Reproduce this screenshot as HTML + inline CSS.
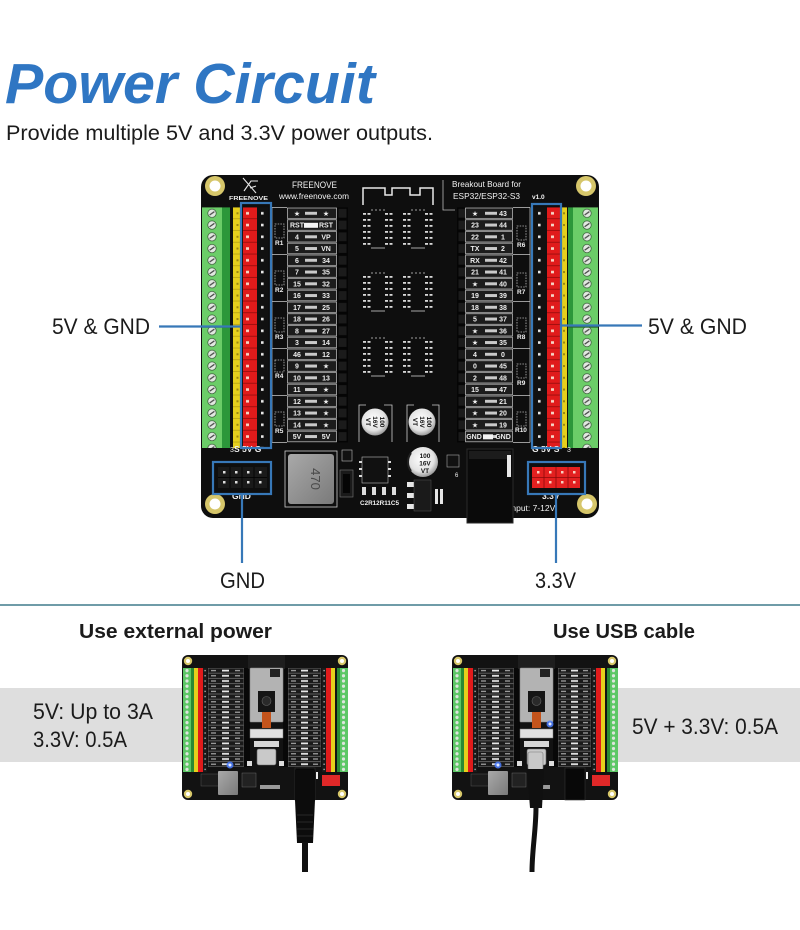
<!DOCTYPE html>
<html><head><meta charset="utf-8">
<style>
html,body{margin:0;padding:0;background:#fff;width:800px;height:930px;overflow:hidden}
svg{display:block}
.t{font-family:"Liberation Sans","DejaVu Sans",sans-serif;font-weight:bold;font-size:7px;fill:#eeeeee;text-anchor:middle}
.w{font-family:"Liberation Sans",sans-serif;fill:#f2f2f2}
.lab{font-family:"Liberation Sans",sans-serif;font-size:22px;fill:#1b1b1b}
.cap{font-family:"Liberation Sans",sans-serif;font-weight:bold;font-size:6.5px;fill:#111;text-anchor:middle}
</style></head><body>
<svg width="800" height="930" viewBox="0 0 800 930" xmlns="http://www.w3.org/2000/svg" xmlns:xlink="http://www.w3.org/1999/xlink">
<defs>
  <radialGradient id="silver" cx="45%" cy="40%" r="60%">
    <stop offset="0" stop-color="#ffffff"/><stop offset="0.7" stop-color="#e2e2e2"/><stop offset="1" stop-color="#9a9a9a"/>
  </radialGradient>
  <linearGradient id="ind" x1="0" y1="0" x2="1" y2="1">
    <stop offset="0" stop-color="#a9a9a9"/><stop offset="1" stop-color="#7a7a7a"/>
  </linearGradient>
  <pattern id="strip" x="0" y="207.4" width="800" height="11.75" patternUnits="userSpaceOnUse">
    <!-- left green -->
    <rect x="202" width="20" height="11.75" fill="#6bcd68"/>
    <rect x="222" width="8" height="11.75" fill="#2c973a"/>
    <circle cx="212" cy="5.9" r="4.2" fill="#e2e9e1" stroke="#355535" stroke-width="0.7"/>
    <path d="M209.6 7.6 L214.4 4.2" stroke="#4a4a4a" stroke-width="1.3"/>
    <!-- left yellow -->
    <rect x="233" width="9" height="11.75" fill="#e6cf1c"/>
    <rect x="236.5" y="4.9" width="2" height="2" fill="#9c870f"/>
    <rect x="233" y="11" width="9" height="0.75" fill="#b39d10"/>
    <!-- left red -->
    <rect x="243" width="14" height="11.75" fill="#e01b1b"/>
    <rect x="246" y="4.6" width="3" height="2.6" fill="#f5d5c5"/>
    <rect x="243" y="11" width="14" height="0.75" fill="#8d0a0a"/>
    <!-- left black -->
    <rect x="257" width="11" height="11.75" fill="#111"/>
    <rect x="261" y="4.6" width="2.6" height="2.6" fill="#e8e8e8"/>
    <!-- left table -->
    <rect x="287.5" y="0.6" width="49" height="10.5" fill="#1c1c1c" stroke="#c8c8c8" stroke-width="0.7"/>
    <rect x="305" y="4.4" width="12" height="3" fill="#c9c9c9"/>
    <!-- left header -->
    <rect x="337" width="11" height="11.75" fill="#050505"/>
    <rect x="338.5" y="1.5" width="8" height="8.75" fill="#1b1b1b"/>
    <!-- right header -->
    <rect x="457" width="11" height="11.75" fill="#050505"/>
    <rect x="458.5" y="1.5" width="8" height="8.75" fill="#1b1b1b"/>
    <!-- right table -->
    <rect x="465.5" y="0.6" width="47" height="10.5" fill="#1c1c1c" stroke="#c8c8c8" stroke-width="0.7"/>
    <rect x="485" y="4.4" width="12" height="3" fill="#c9c9c9"/>
    <!-- right black -->
    <rect x="533" width="14" height="11.75" fill="#111"/>
    <rect x="538" y="4.6" width="2.6" height="2.6" fill="#e8e8e8"/>
    <!-- right red -->
    <rect x="547" width="13" height="11.75" fill="#e01b1b"/>
    <rect x="551" y="4.6" width="3" height="2.6" fill="#f5d5c5"/>
    <rect x="547" y="11" width="13" height="0.75" fill="#8d0a0a"/>
    <!-- right yellow -->
    <rect x="561" width="6" height="11.75" fill="#e6cf1c"/>
    <rect x="563" y="4.9" width="2" height="2" fill="#9c870f"/>
    <!-- right green -->
    <rect x="568" width="5" height="11.75" fill="#2c973a"/>
    <rect x="573" width="25" height="11.75" fill="#6bcd68"/>
    <circle cx="587" cy="5.9" r="4.2" fill="#e2e9e1" stroke="#355535" stroke-width="0.7"/>
    <path d="M584.6 7.6 L589.4 4.2" stroke="#4a4a4a" stroke-width="1.3"/>
  </pattern>

  <pattern id="sstrip" x="0" y="13" width="166" height="5.2" patternUnits="userSpaceOnUse">
    <rect x="1" width="8" height="5.2" fill="#5cc765"/>
    <rect x="9" width="3" height="5.2" fill="#2a8a34"/>
    <circle cx="5" cy="2.6" r="1.6" fill="#dfe5df"/>
    <rect x="12" width="4" height="5.2" fill="#e6cf1c"/>
    <rect x="16" width="5" height="5.2" fill="#e01b1b"/>
    <rect x="21" width="4" height="5.2" fill="#1a1a1a"/>
    <rect x="22.5" y="2" width="1.2" height="1.2" fill="#ddd"/>
    <rect x="26.3" y="0.3" width="35.4" height="4.6" fill="#1a1a1a" stroke="#8a8a8a" stroke-width="0.3"/>
    <rect x="29" y="2" width="5" height="1.2" fill="#aaa"/>
    <rect x="40" y="1.7" width="7" height="1.8" fill="#e8e8e8"/>
    <rect x="53" y="2" width="5" height="1.2" fill="#aaa"/>
    <rect x="62" width="6" height="5.2" fill="#080808"/>
    <rect x="101" width="5" height="5.2" fill="#080808"/>
    <rect x="106.3" y="0.3" width="32.4" height="4.6" fill="#1a1a1a" stroke="#8a8a8a" stroke-width="0.3"/>
    <rect x="109" y="2" width="5" height="1.2" fill="#aaa"/>
    <rect x="119" y="1.7" width="7" height="1.8" fill="#e8e8e8"/>
    <rect x="131" y="2" width="5" height="1.2" fill="#aaa"/>
    <rect x="140" width="4" height="5.2" fill="#1a1a1a"/>
    <rect x="141.5" y="2" width="1.2" height="1.2" fill="#ddd"/>
    <rect x="144" width="5" height="5.2" fill="#e01b1b"/>
    <rect x="149" width="4" height="5.2" fill="#e6cf1c"/>
    <rect x="155" width="3" height="5.2" fill="#2a8a34"/>
    <rect x="158" width="8" height="5.2" fill="#5cc765"/>
    <circle cx="161.5" cy="2.6" r="1.6" fill="#dfe5df"/>
  </pattern>

  <g id="ic">
    <path d="M8 0 H22" stroke="#cfcfcf" stroke-width="0.8" stroke-dasharray="2 2"/>
    <g fill="#d8d8d8">
      <rect x="0" y="3" width="3" height="1.8"/><rect x="4.5" y="3" width="3" height="1.8"/><rect x="22" y="3" width="3" height="1.8"/><rect x="26.5" y="3" width="3" height="1.8"/>
      <rect x="0" y="9" width="3" height="1.8"/><rect x="4.5" y="9" width="3" height="1.8"/><rect x="22" y="9" width="3" height="1.8"/><rect x="26.5" y="9" width="3" height="1.8"/>
      <rect x="0" y="15" width="3" height="1.8"/><rect x="4.5" y="15" width="3" height="1.8"/><rect x="22" y="15" width="3" height="1.8"/><rect x="26.5" y="15" width="3" height="1.8"/>
      <rect x="0" y="21" width="3" height="1.8"/><rect x="4.5" y="21" width="3" height="1.8"/><rect x="22" y="21" width="3" height="1.8"/><rect x="26.5" y="21" width="3" height="1.8"/>
      <rect x="0" y="27" width="3" height="1.8"/><rect x="4.5" y="27" width="3" height="1.8"/><rect x="22" y="27" width="3" height="1.8"/><rect x="26.5" y="27" width="3" height="1.8"/>
      <rect x="0" y="33" width="3" height="1.8"/><rect x="4.5" y="33" width="3" height="1.8"/><rect x="22" y="33" width="3" height="1.8"/><rect x="26.5" y="33" width="3" height="1.8"/>
    </g>
    <path d="M8 38 H22" stroke="#cfcfcf" stroke-width="0.8"/>
  </g>

  <g id="sb">
    <rect x="0" y="0" width="166" height="145" rx="6" fill="#121212"/>
    <rect x="1" y="13" width="24" height="104" fill="url(#sstrip)"/>
    <rect x="26" y="13" width="42" height="99" fill="url(#sstrip)"/>
    <rect x="101" y="13" width="38" height="99" fill="url(#sstrip)"/>
    <rect x="140" y="13" width="26" height="104" fill="url(#sstrip)"/>
    <circle cx="6" cy="6" r="4.2" fill="#d8c86a"/><circle cx="6" cy="6" r="2" fill="#fff"/>
    <circle cx="160" cy="6" r="4.2" fill="#d8c86a"/><circle cx="160" cy="6" r="2" fill="#fff"/>
    <circle cx="6" cy="139" r="4.2" fill="#d8c86a"/><circle cx="6" cy="139" r="2" fill="#fff"/>
    <circle cx="160" cy="139" r="4.2" fill="#d8c86a"/><circle cx="160" cy="139" r="2" fill="#fff"/>
    <rect x="66" y="0" width="37" height="14" fill="#1e1e1e"/>
    <rect x="68" y="13" width="33" height="54" rx="1" fill="#b3b3b3" stroke="#888" stroke-width="0.6"/>
    <rect x="88" y="14" width="10" height="8" fill="#222"/>
    <rect x="76" y="36" width="17" height="21" fill="#151515"/>
    <circle cx="84.5" cy="46" r="4.5" fill="#2a2a2a" stroke="#666" stroke-width="0.6"/>
    <rect x="80" y="57" width="9" height="16" fill="#c4541c"/>
    <rect x="68" y="74" width="33" height="9" fill="#e0e0e0" stroke="#777" stroke-width="0.5"/>
    <rect x="72" y="86" width="25" height="6" fill="#d6d6d6"/>
    <rect x="75" y="94" width="19" height="16" rx="2" fill="#c9c9c9" stroke="#666" stroke-width="0.6"/>
    <rect x="65" y="106" width="5" height="5" fill="#ddd"/>
    <rect x="97" y="106" width="5" height="5" fill="#ddd"/>
    <rect x="19" y="119" width="21" height="12" fill="#1b1b1b" stroke="#555" stroke-width="0.5"/>
    <rect x="36" y="116" width="20" height="24" rx="1" fill="url(#ind)"/>
    <rect x="60" y="118" width="14" height="14" fill="#222" stroke="#777" stroke-width="0.4"/>
    <rect x="78" y="130" width="20" height="4" fill="#999"/>
    <rect x="113" y="113" width="20" height="32" fill="#080808" stroke="#333" stroke-width="0.6"/>
    <rect x="134" y="117" width="2" height="7" fill="#eee"/>
    <rect x="140" y="120" width="18" height="11" fill="#e02828"/>
  </g>
</defs>

<!-- Title -->
<text x="5" y="103" font-family="'Liberation Sans',sans-serif" font-size="57" font-weight="bold" font-style="italic" fill="#2f76c3" textLength="370" lengthAdjust="spacingAndGlyphs">Power Circuit</text>
<text x="6" y="140" font-family="'Liberation Sans',sans-serif" font-size="21" fill="#1b1b1b" textLength="427" lengthAdjust="spacingAndGlyphs">Provide multiple 5V and 3.3V power outputs.</text>

<!-- ===== Main board ===== -->
<rect x="201" y="175" width="398" height="343" rx="12" fill="#0e0e0e"/>
<g>
  <circle cx="215" cy="186" r="10" fill="#d6c66a"/><circle cx="215" cy="186" r="5.5" fill="#fff"/>
  <circle cx="586" cy="186" r="10" fill="#d6c66a"/><circle cx="586" cy="186" r="5.5" fill="#fff"/>
  <circle cx="215" cy="504" r="10" fill="#d6c66a"/><circle cx="215" cy="504" r="5.5" fill="#fff"/>
  <circle cx="587" cy="504" r="10" fill="#d6c66a"/><circle cx="587" cy="504" r="5.5" fill="#fff"/>
</g>

<rect x="202" y="207.4" width="66" height="240.6" fill="url(#strip)"/>
<rect x="287" y="207.4" width="61" height="235" fill="url(#strip)"/>
<rect x="457" y="207.4" width="56" height="235" fill="url(#strip)"/>
<rect x="533" y="207.4" width="65" height="240.6" fill="url(#strip)"/>
<rect x="202" y="326.5" width="28" height="1.2" fill="#2a6a2a"/>
<rect x="568" y="326.5" width="30" height="1.2" fill="#2a6a2a"/>
<!-- RST highlight -->
<rect x="304" y="222.8" width="14" height="5" fill="#f4f4f4"/>
<rect x="483" y="434.3" width="10" height="5" fill="#f4f4f4"/>

<!-- R columns -->
<g stroke="#c8c8c8" stroke-width="0.7" fill="none">
  <path d="M272 207.4 V442.4 M272 207.4 H287 M272 254.4 H287 M272 301.4 H287 M272 348.4 H287 M272 395.4 H287 M272 442.4 H287"/>
  <path d="M530 207.4 V442.4 M513 207.4 H530 M513 254.4 H530 M513 301.4 H530 M513 348.4 H530 M513 395.4 H530 M513 442.4 H530"/>
</g>
<g stroke="#bdbdbd" stroke-width="0.8" fill="none" stroke-dasharray="1.5 1.2">
  <rect x="275" y="224" width="9" height="14"/><rect x="275" y="271" width="9" height="14"/><rect x="275" y="318" width="9" height="14"/><rect x="275" y="360" width="9" height="12"/><rect x="275" y="412" width="9" height="14"/>
  <rect x="517" y="226" width="9" height="14"/><rect x="517" y="273" width="9" height="14"/><rect x="517" y="318" width="9" height="14"/><rect x="517" y="364" width="9" height="14"/><rect x="517" y="412" width="9" height="14"/>
</g>
<g class="w" font-size="6.5" font-weight="bold">
  <text x="275" y="245">R1</text><text x="275" y="292">R2</text><text x="275" y="339">R3</text><text x="275" y="378">R4</text><text x="275" y="433">R5</text>
  <text x="517" y="247">R6</text><text x="517" y="294">R7</text><text x="517" y="339">R8</text><text x="517" y="385">R9</text><text x="515" y="432">R10</text>
</g>

<!-- left table labels -->
<g class="t">
  <text x="297" y="215.8">★</text><text x="326" y="215.8">★</text>
  <text x="297" y="227.6">RST</text><text x="326" y="227.6">RST</text>
  <text x="297" y="239.3">4</text><text x="326" y="239.3">VP</text>
  <text x="297" y="251.1">5</text><text x="326" y="251.1">VN</text>
  <text x="297" y="262.8">6</text><text x="326" y="262.8">34</text>
  <text x="297" y="274.6">7</text><text x="326" y="274.6">35</text>
  <text x="297" y="286.3">15</text><text x="326" y="286.3">32</text>
  <text x="297" y="298.1">16</text><text x="326" y="298.1">33</text>
  <text x="297" y="309.8">17</text><text x="326" y="309.8">25</text>
  <text x="297" y="321.6">18</text><text x="326" y="321.6">26</text>
  <text x="297" y="333.3">8</text><text x="326" y="333.3">27</text>
  <text x="297" y="345.1">3</text><text x="326" y="345.1">14</text>
  <text x="297" y="356.8">46</text><text x="326" y="356.8">12</text>
  <text x="297" y="368.6">9</text><text x="326" y="368.6">★</text>
  <text x="297" y="380.3">10</text><text x="326" y="380.3">13</text>
  <text x="297" y="392.1">11</text><text x="326" y="392.1">★</text>
  <text x="297" y="403.8">12</text><text x="326" y="403.8">★</text>
  <text x="297" y="415.6">13</text><text x="326" y="415.6">★</text>
  <text x="297" y="427.3">14</text><text x="326" y="427.3">★</text>
  <text x="297" y="439.1">5V</text><text x="326" y="439.1">5V</text>
</g>
<!-- right table labels -->
<g class="t">
  <text x="475" y="215.8">★</text><text x="503" y="215.8">43</text>
  <text x="475" y="227.6">23</text><text x="503" y="227.6">44</text>
  <text x="475" y="239.3">22</text><text x="503" y="239.3">1</text>
  <text x="475" y="251.1">TX</text><text x="503" y="251.1">2</text>
  <text x="475" y="262.8">RX</text><text x="503" y="262.8">42</text>
  <text x="475" y="274.6">21</text><text x="503" y="274.6">41</text>
  <text x="475" y="286.3">★</text><text x="503" y="286.3">40</text>
  <text x="475" y="298.1">19</text><text x="503" y="298.1">39</text>
  <text x="475" y="309.8">18</text><text x="503" y="309.8">38</text>
  <text x="475" y="321.6">5</text><text x="503" y="321.6">37</text>
  <text x="475" y="333.3">★</text><text x="503" y="333.3">36</text>
  <text x="475" y="345.1">★</text><text x="503" y="345.1">35</text>
  <text x="475" y="356.8">4</text><text x="503" y="356.8">0</text>
  <text x="475" y="368.6">0</text><text x="503" y="368.6">45</text>
  <text x="475" y="380.3">2</text><text x="503" y="380.3">48</text>
  <text x="475" y="392.1">15</text><text x="503" y="392.1">47</text>
  <text x="475" y="403.8">★</text><text x="503" y="403.8">21</text>
  <text x="475" y="415.6">★</text><text x="503" y="415.6">20</text>
  <text x="475" y="427.3">★</text><text x="503" y="427.3">19</text>
  <text x="474" y="439.1">GND</text><text x="503" y="439.1">GND</text>
</g>

<!-- antenna silkscreen -->
<path d="M363 205 V188 H385 V195 H392 V188 H410 V195 H420 V188 H433 V205" fill="none" stroke="#e8e8e8" stroke-width="1.5"/>
<path d="M443 180 V210 H455" fill="none" stroke="#bbb" stroke-width="0.8"/>
<!-- ICs -->
<use xlink:href="#ic" x="363" y="210"/>
<use xlink:href="#ic" x="403" y="210"/>
<use xlink:href="#ic" x="363" y="273"/>
<use xlink:href="#ic" x="403" y="273"/>
<use xlink:href="#ic" x="363" y="338"/>
<use xlink:href="#ic" x="403" y="338"/>

<!-- capacitors -->
<g fill="none" stroke="#cfcfcf" stroke-width="0.8">
  <path d="M359 442 V405 H366 M384 405 H392 V442"/>
  <path d="M407 442 V405 H414 M432 405 H439 V442"/>
</g>
<circle cx="375" cy="422" r="13.5" fill="url(#silver)"/>
<circle cx="422" cy="422" r="13.5" fill="url(#silver)"/>
<g class="cap">
  <text transform="translate(375,422) rotate(90)"><tspan x="0" y="-5">100</tspan><tspan x="0" y="2">16V</tspan><tspan x="0" y="9">VT</tspan></text>
  <text transform="translate(422,422) rotate(90)"><tspan x="0" y="-5">100</tspan><tspan x="0" y="2">16V</tspan><tspan x="0" y="9">VT</tspan></text>
</g>

<!-- lower components -->
<rect x="285" y="451" width="52" height="56" fill="none" stroke="#cfcfcf" stroke-width="0.8"/>
<rect x="288" y="454" width="46" height="50" rx="3" fill="url(#ind)"/>
<text transform="translate(311,479) rotate(90)" font-family="'Liberation Sans',sans-serif" font-size="13" fill="#4a4a4a" text-anchor="middle">470</text>
<rect x="342" y="450" width="10" height="11" fill="#111" stroke="#bbb" stroke-width="0.6"/>
<rect x="340" y="470" width="13" height="27" fill="#1a1a1a" stroke="#777" stroke-width="0.6"/>
<rect x="343" y="474" width="7" height="19" fill="#050505"/>
<rect x="362" y="457" width="26" height="26" fill="#111" stroke="#bbb" stroke-width="0.6"/>
<g fill="#dcdcdc">
  <rect x="359" y="461" width="3" height="2"/><rect x="359" y="468" width="3" height="2"/><rect x="359" y="475" width="3" height="2"/>
  <rect x="388" y="461" width="3" height="2"/><rect x="388" y="468" width="3" height="2"/><rect x="388" y="475" width="3" height="2"/>
  <rect x="362" y="487" width="4" height="8"/><rect x="372" y="487" width="4" height="8"/><rect x="382" y="487" width="4" height="8"/><rect x="392" y="487" width="4" height="8"/>
</g>
<text x="360" y="505" class="w" font-size="6.5" font-weight="bold" textLength="39" lengthAdjust="spacingAndGlyphs">C2R12R11C5</text>
<circle cx="423" cy="462" r="15" fill="url(#silver)"/>
<path d="M411 453 A15 15 0 0 0 411 471" fill="none" stroke="#222" stroke-width="2"/>
<g class="cap" font-size="7.5">
  <text x="425" y="458">100</text><text x="425" y="465.5">16V</text><text x="425" y="473">VT</text>
</g>
<g fill="#e6e6e6">
  <rect x="407" y="482" width="7" height="5"/><rect x="407" y="493" width="7" height="5"/><rect x="407" y="504" width="7" height="5"/>
  <rect x="435" y="489" width="3" height="15"/><rect x="440" y="489" width="3" height="15"/>
</g>
<rect x="414" y="480" width="17" height="31" fill="#1a1a1a" stroke="#555" stroke-width="0.5"/>
<rect x="447" y="455" width="12" height="12" fill="#111" stroke="#aaa" stroke-width="0.6"/>
<text x="455" y="477" class="w" font-size="6">6</text>

<!-- bottom labels on board -->
<g class="w" font-size="8.5" font-weight="bold">
  <text x="234" y="452">S 5V G</text>
  <text x="532" y="452">G 5V S</text>
  <text x="232" y="499">GND</text>
  <text x="542" y="499">3.3V</text>
</g>
<text x="509" y="511" class="w" font-size="8.5">Input: 7-12V</text>
<text x="230" y="452" class="w" font-size="7">3</text>
<text x="567" y="452" class="w" font-size="7">3</text>

<!-- DC jack -->
<rect x="467" y="449" width="46" height="74" fill="#0a0a0a" stroke="#2a2a2a" stroke-width="1"/>
<rect x="469" y="451" width="42" height="8" fill="#1c1c1c"/>
<rect x="507" y="455" width="4" height="22" fill="#e8e8e8"/>

<!-- GND header -->
<rect x="218" y="467" width="49" height="21" fill="#1a1a1a"/>
<g fill="#ddd">
  <rect x="223" y="471" width="2.5" height="2.5"/><rect x="235" y="471" width="2.5" height="2.5"/><rect x="247" y="471" width="2.5" height="2.5"/><rect x="259" y="471" width="2.5" height="2.5"/>
  <rect x="223" y="481" width="2.5" height="2.5"/><rect x="235" y="481" width="2.5" height="2.5"/><rect x="247" y="481" width="2.5" height="2.5"/><rect x="259" y="481" width="2.5" height="2.5"/>
</g>
<g stroke="#000" stroke-width="0.8"><path d="M230 467 V488 M242 467 V488 M254 467 V488 M218 477.5 H267"/></g>
<!-- 3.3V header -->
<rect x="532" y="467" width="48" height="21" fill="#e32020"/>
<g fill="#f6d0c0">
  <rect x="537" y="471" width="2.5" height="2.5"/><rect x="549" y="471" width="2.5" height="2.5"/><rect x="561" y="471" width="2.5" height="2.5"/><rect x="573" y="471" width="2.5" height="2.5"/>
  <rect x="537" y="481" width="2.5" height="2.5"/><rect x="549" y="481" width="2.5" height="2.5"/><rect x="561" y="481" width="2.5" height="2.5"/><rect x="573" y="481" width="2.5" height="2.5"/>
</g>
<g stroke="#8a0a0a" stroke-width="0.8"><path d="M544 467 V488 M556 467 V488 M568 467 V488 M532 477.5 H580"/></g>

<!-- top texts -->
<path d="M243 178 L256 193 M244 191 L251 181 L258 181 M250 188 L256 186" fill="none" stroke="#e8e8e8" stroke-width="1.1"/>
<text x="229" y="200" class="w" font-size="5.5" font-weight="bold" textLength="39" lengthAdjust="spacingAndGlyphs">FREENOVE</text>
<text x="292" y="188" class="w" font-size="9" textLength="45" lengthAdjust="spacingAndGlyphs">FREENOVE</text>
<text x="279" y="199" class="w" font-size="8.5" textLength="70" lengthAdjust="spacingAndGlyphs">www.freenove.com</text>
<text x="452" y="187" class="w" font-size="8.5" textLength="69" lengthAdjust="spacingAndGlyphs">Breakout Board for</text>
<text x="453" y="199" class="w" font-size="8.5" textLength="67" lengthAdjust="spacingAndGlyphs">ESP32/ESP32-S3</text>
<text x="532" y="199" class="w" font-size="6.5" font-weight="bold">v1.0</text>

<!-- blue callouts -->
<g fill="none" stroke="#3778b8" stroke-width="2.2">
  <rect x="241" y="203" width="30" height="245"/>
  <rect x="532" y="204" width="29" height="244"/>
  <rect x="213" y="462" width="58" height="32"/>
  <rect x="528" y="462" width="57" height="32"/>
  <path d="M159 326.5 H241"/>
  <path d="M561 325.5 H642"/>
  <path d="M242 494 V563"/>
  <path d="M556 494 V563"/>
</g>

<text x="52" y="334" class="lab" textLength="98" lengthAdjust="spacingAndGlyphs">5V &amp; GND</text>
<text x="648" y="334" class="lab" textLength="99" lengthAdjust="spacingAndGlyphs">5V &amp; GND</text>
<text x="220" y="588" class="lab" textLength="45" lengthAdjust="spacingAndGlyphs">GND</text>
<text x="535" y="588" class="lab" textLength="41" lengthAdjust="spacingAndGlyphs">3.3V</text>

<!-- divider -->
<rect x="0" y="604" width="800" height="2" fill="#6f9ca8"/>

<!-- bottom section -->
<text x="79" y="638" font-family="'Liberation Sans',sans-serif" font-size="20" font-weight="bold" fill="#1b1b1b" textLength="193" lengthAdjust="spacingAndGlyphs">Use external power</text>
<text x="553" y="638" font-family="'Liberation Sans',sans-serif" font-size="20" font-weight="bold" fill="#1b1b1b" textLength="142" lengthAdjust="spacingAndGlyphs">Use USB cable</text>

<rect x="0" y="688" width="184" height="74" fill="#dedede"/>
<rect x="618" y="688" width="182" height="74" fill="#dedede"/>
<text x="33" y="719" class="lab" textLength="120" lengthAdjust="spacingAndGlyphs">5V: Up to 3A</text>
<text x="33" y="747" class="lab" textLength="94" lengthAdjust="spacingAndGlyphs">3.3V: 0.5A</text>
<text x="632" y="734" class="lab" textLength="146" lengthAdjust="spacingAndGlyphs">5V + 3.3V: 0.5A</text>

<use xlink:href="#sb" x="182" y="655"/>
<use xlink:href="#sb" x="452" y="655"/>

<!-- LEDs -->
<circle cx="230" cy="765" r="3.5" fill="#4a7dff" opacity="0.85"/>
<circle cx="230" cy="765" r="1.5" fill="#dfe8ff"/>
<circle cx="498" cy="765" r="3.5" fill="#4a7dff" opacity="0.85"/>
<circle cx="498" cy="765" r="1.5" fill="#dfe8ff"/>
<circle cx="550" cy="724" r="3.5" fill="#4a7dff" opacity="0.85"/>
<circle cx="550" cy="724" r="1.5" fill="#dfe8ff"/>

<!-- DC cable (left) -->
<path d="M295 770 H315 V800 L313 843 H297 L295 800 Z" fill="#0c0c0c"/>
<g stroke="#333" stroke-width="0.8"><path d="M297 815 H313 M297 822 H313 M297 829 H313 M297 836 H313"/></g>
<rect x="302" y="842" width="6" height="30" fill="#111"/>

<!-- USB cable (right) -->
<rect x="528" y="752" width="15" height="18" rx="2" fill="#c8c8c8" stroke="#777" stroke-width="0.6"/>
<path d="M527 769 H544 L542 808 H530 Z" fill="#101010"/>
<path d="M536 807 C536 830 532 850 532 872" fill="none" stroke="#111" stroke-width="5"/>
</svg>
</body></html>
